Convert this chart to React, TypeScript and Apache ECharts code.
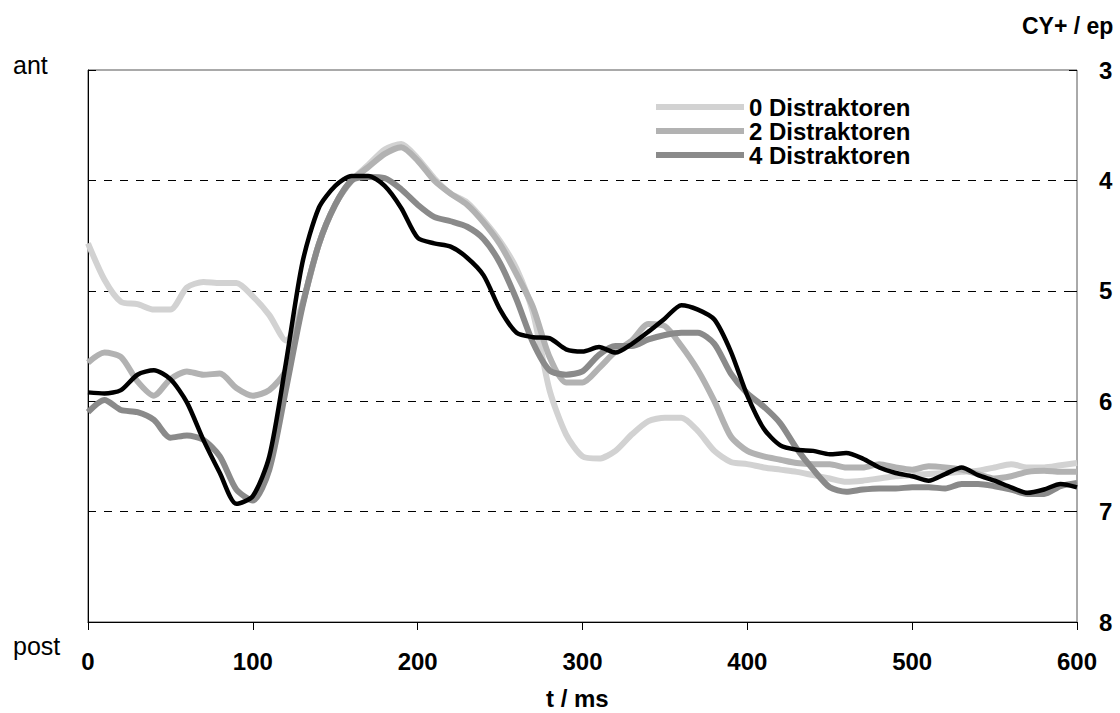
import React, { useEffect, useRef } from "react";
import * as echarts from "echarts";

const times: number[] = [];
for (let t = 0; t <= 600; t += 10) times.push(t);

const seriesNames = ["0 Distraktoren", "2 Distraktoren", "4 Distraktoren", "Gesamt"];

const d0 = [
  4.57, 4.9, 5.1, 5.12, 5.17, 5.17, 4.97, 4.92, 4.93, 4.93,
  5.05, 5.22, 5.45, 5.12, 4.58, 4.22, 4.0, 3.86, 3.72, 3.67,
  3.8, 3.98, 4.12, 4.2, 4.36, 4.55, 4.8, 5.2, 5.9, 6.3,
  6.5, 6.52, 6.45, 6.3, 6.18, 6.15, 6.15, 6.27, 6.45, 6.55,
  6.57, 6.6, 6.62, 6.64, 6.67, 6.7, 6.73, 6.72, 6.7, 6.68,
  6.67, 6.66, 6.65, 6.64, 6.63, 6.6, 6.57, 6.6, 6.6, 6.58, 6.56,
];
const d2 = [
  5.65, 5.56, 5.6, 5.82, 5.95, 5.8, 5.73, 5.76, 5.75, 5.88,
  5.95, 5.9, 5.72, 5.13, 4.58, 4.22, 4.0, 3.88, 3.76, 3.7,
  3.82, 4.0, 4.12, 4.22, 4.38, 4.58, 4.85, 5.15, 5.6, 5.83,
  5.83, 5.7, 5.55, 5.45, 5.3, 5.32, 5.5, 5.72, 6.0, 6.32,
  6.45, 6.5, 6.53, 6.56, 6.57, 6.57, 6.6, 6.6, 6.57, 6.6,
  6.62, 6.59, 6.6, 6.62, 6.66, 6.7, 6.68, 6.64, 6.63, 6.64, 6.64,
];
const d4 = [
  6.1, 5.99, 6.08, 6.1, 6.17, 6.33, 6.31, 6.35, 6.5, 6.8,
  6.9, 6.62, 5.9, 5.15, 4.58, 4.22, 4.0, 3.97, 3.98, 4.08,
  4.22, 4.33, 4.37, 4.42, 4.53, 4.75, 5.08, 5.47, 5.72, 5.76,
  5.73, 5.58, 5.5, 5.5, 5.44, 5.4, 5.38, 5.38, 5.48, 5.75,
  5.93, 6.05, 6.2, 6.43, 6.62, 6.78, 6.82, 6.8, 6.79, 6.79,
  6.78, 6.78, 6.79, 6.75, 6.75, 6.77, 6.8, 6.84, 6.84, 6.77, 6.74,
];
const dAll = [
  5.92, 5.93, 5.9, 5.76, 5.72, 5.8, 6.01, 6.35, 6.65, 6.93,
  6.86, 6.5, 5.66, 4.75, 4.25, 4.05, 3.96, 3.96, 4.05, 4.25,
  4.52, 4.57, 4.6, 4.7, 4.86, 5.17, 5.38, 5.42, 5.43, 5.53,
  5.55, 5.51, 5.56, 5.48, 5.37, 5.25, 5.13, 5.17, 5.26, 5.55,
  5.95, 6.25, 6.4, 6.44, 6.45, 6.48, 6.47, 6.52, 6.6, 6.65,
  6.68, 6.72, 6.66, 6.6, 6.67, 6.72, 6.78, 6.83, 6.8, 6.75, 6.78,
];

const gridValues = [4, 5, 6, 7];
const colors = ["#d2d2d2", "#b2b2b2", "#8a8a8a", "#000000"];
const widths = [6, 6, 6, 4.5];
const FONT = "'Liberation Sans', Arial, sans-serif";

export default function App() {
  const ref = useRef<HTMLDivElement>(null);
  useEffect(() => {
    if (!ref.current) return;
    const chart = echarts.init(ref.current, undefined, { renderer: "svg" });
    const allData = [d0, d2, d4, dAll];
    const series: any[] = allData.map((arr, i) => ({
      name: seriesNames[i],
      type: "line",
      data: arr.map((v, j) => [times[j], v]),
      showSymbol: false,
      smooth: 0.25,
      lineStyle: { color: colors[i], width: widths[i] },
      itemStyle: { color: colors[i] },
      z: 3 + i,
    }));
    series[0].markLine = {
      silent: true,
      symbol: ["none", "none"],
      label: { show: false },
      lineStyle: { color: "#000", type: [8, 8], width: 1 },
      data: gridValues.map((v) => ({ yAxis: v })),
      z: 1,
    };
    chart.setOption({
      animation: false,
      backgroundColor: "#fff",
      grid: {
        left: 88,
        right: 43,
        top: 70,
        bottom: 91,
        show: true,
        borderColor: "#555",
        borderWidth: 1,
      },
      legend: {
        data: seriesNames.slice(0, 3),
        orient: "vertical",
        left: 651,
        top: 90,
        icon: "rect",
        itemWidth: 88,
        itemHeight: 6,
        itemGap: 0,
        textStyle: {
          fontFamily: FONT,
          fontWeight: "bold",
          fontSize: 24,
          color: "#000",
          lineHeight: 23,
          padding: [0, 0, 0, 0],
        },
      },
      xAxis: {
        type: "value",
        min: 0,
        max: 600,
        interval: 100,
        axisLine: { lineStyle: { color: "#000", width: 1 } },
        axisTick: { show: true, length: 8, lineStyle: { color: "#000" } },
        splitLine: { show: false },
        axisLabel: {
          fontFamily: FONT,
          fontWeight: "bold",
          fontSize: 24,
          color: "#000",
          margin: 27,
        },
      },
      yAxis: [
        {
          type: "value",
          position: "right",
          inverse: true,
          min: 3,
          max: 8,
          interval: 1,
          axisLine: { show: true, lineStyle: { color: "#000", width: 1 } },
          axisTick: { show: true, length: 8, lineStyle: { color: "#000" } },
          splitLine: { show: false },
          axisLabel: {
            fontFamily: FONT,
            fontWeight: "bold",
            fontSize: 24,
            color: "#000",
            margin: 22,
          },
        },
        {
          type: "value",
          position: "right",
          inverse: true,
          min: 3,
          max: 8,
          interval: 1,
          axisLine: { show: false },
          axisTick: { show: true, inside: true, length: 8, lineStyle: { color: "#000" } },
          splitLine: { show: false },
          axisLabel: { show: false },
        },
      ],
      graphic: [
        {
          type: "text",
          left: 13,
          top: 52,
          style: { text: "ant", font: `25px ${FONT}`, fill: "#000" },
        },
        {
          type: "text",
          left: 13,
          top: 633,
          style: { text: "post", font: `25px ${FONT}`, fill: "#000" },
        },
        {
          type: "text",
          left: 1022,
          top: 14,
          style: { text: "CY+ / ep", font: `bold 23px ${FONT}`, fill: "#000" },
        },
        {
          type: "text",
          left: 546,
          top: 686,
          style: { text: "t / ms", font: `bold 24px ${FONT}`, fill: "#000" },
        },
      ],
      series,
    });
    return () => chart.dispose();
  }, []);
  return (
    <div
      ref={ref}
      style={{ position: "fixed", left: 0, top: 0, width: 1120, height: 713 }}
    />
  );
}
